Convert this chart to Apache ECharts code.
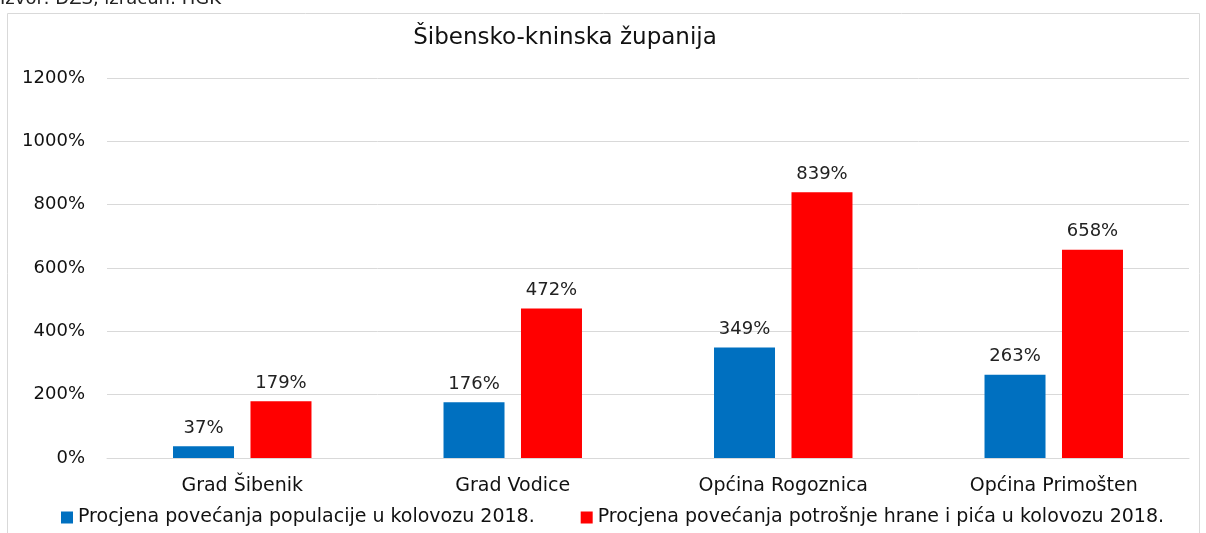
<!DOCTYPE html>
<html>
<head>
<meta charset="utf-8">
<script src="https://cdn.jsdelivr.net/npm/echarts@6/dist/echarts.min.js"></script>
<style>
  html, body { margin: 0; padding: 0; background: #fff; }
  #chart { width: 1206px; height: 533px; }
</style>
</head>
<body>
<div id="chart"></div>
<script>
// podaci
var kategorije = ['Grad Šibenik', 'Grad Vodice', 'Općina Rogoznica', 'Općina Primošten'];
var populacija = [37, 176, 349, 263];
var potrosnja = [179, 472, 839, 658];
var nazivPopulacija = 'Procjena povećanja populacije u kolovozu 2018.';
var nazivPotrosnja = 'Procjena povećanja potrošnje hrane i pića u kolovozu 2018.';

var font = '"DejaVu Sans", "Noto Sans", sans-serif';
var chart = echarts.init(document.getElementById('chart'));

chart.setOption({
    animation: false,
    textStyle: { fontFamily: font },
    graphic: [
        { type: 'rect', shape: { x: 7.5, y: 13.5, width: 1192, height: 540 }, style: { fill: 'none', stroke: '#d9d9d9', lineWidth: 1 } },
        { type: 'text', left: 0, top: -10, style: { text: 'Izvor: DZS, izračun: HGK', font: '18px ' + font, fill: '#222' } }
    ],
    title: {
        text: 'Šibensko-kninska županija',
        left: 560, top: 22, textAlign: 'center',
        textStyle: { fontSize: 23, fontWeight: 'normal', color: '#111', fontFamily: font }
    },
    legend: {
        bottom: 1, left: 56, itemGap: 46,
        itemWidth: 12, itemHeight: 12, icon: 'rect',
        textStyle: { fontSize: 19, color: '#111', fontFamily: font },
        data: [nazivPopulacija, nazivPotrosnja]
    },
    grid: { left: 107, right: 17, top: 78, bottom: 75 },
    xAxis: {
        type: 'category', data: kategorije,
        axisLine: { lineStyle: { color: '#d9d9d9' } },
        axisTick: { show: false },
        axisLabel: { fontSize: 19, color: '#111', margin: 19, fontFamily: font }
    },
    yAxis: {
        type: 'value', min: 0, max: 1200, interval: 200,
        axisLabel: { formatter: function (v) { return v + '%'; }, fontSize: 18, color: '#111', margin: 22, fontFamily: font },
        splitLine: { lineStyle: { color: '#d9d9d9' } }
    },
    series: [
        {
            name: nazivPopulacija, type: 'bar', data: populacija,
            barWidth: 61, barGap: '27%',
            itemStyle: { color: '#0070C0' },
            label: { show: true, position: 'top', formatter: '{c}%', fontSize: 18, color: '#222', distance: 9, fontFamily: font }
        },
        {
            name: nazivPotrosnja, type: 'bar', data: potrosnja,
            barWidth: 61,
            itemStyle: { color: '#FF0000' },
            label: { show: true, position: 'top', formatter: '{c}%', fontSize: 18, color: '#222', distance: 9, fontFamily: font }
        }
    ]
});

window.addEventListener('resize', function () { chart.resize(); });
</script>
</body>
</html>
